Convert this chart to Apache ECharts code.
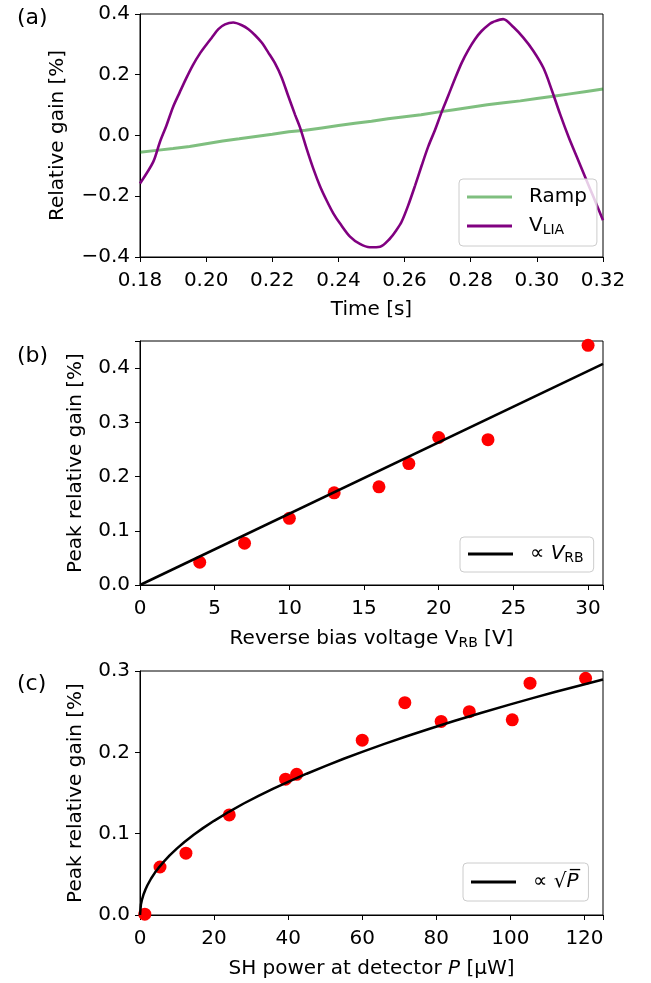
<!DOCTYPE html>
<html>
<head>
<meta charset="utf-8">
<script src="https://cdn.jsdelivr.net/npm/echarts@6/dist/echarts.min.js"></script>
<style>html,body{margin:0;padding:0;background:#fff}#c{width:651px;height:983px}</style>
</head>
<body>
<div id="c"></div>
<script>
// ---------- Panel (a) data ----------
const timeLIA = [0.1800,0.1840,0.1860,0.1880,0.1900,0.1920,0.1940,0.1960,0.1980,0.2000,0.2017,0.2037,0.2057,0.2082,0.2108,0.2128,0.2148,0.2168,0.2188,0.2208,0.2228,0.2248,0.2269,0.2284,0.2304,0.2324,0.2344,0.2364,0.2385,0.2405,0.2435,0.2465,0.2495,0.2526,0.2556,0.2575,0.2591,0.2611,0.2632,0.2652,0.2672,0.2692,0.2712,0.2732,0.2752,0.2773,0.2793,0.2813,0.2833,0.2858,0.2868,0.2898,0.2929,0.2959,0.2989,0.3020,0.3045,0.3070,0.3096,0.3121,0.3146,0.3171,0.3200];
const valueLIA = [-0.158,-0.087,-0.022,0.033,0.094,0.142,0.189,0.232,0.268,0.298,0.322,0.350,0.366,0.372,0.363,0.350,0.330,0.306,0.273,0.238,0.192,0.131,0.068,0.026,-0.044,-0.109,-0.166,-0.213,-0.257,-0.290,-0.333,-0.357,-0.368,-0.366,-0.339,-0.312,-0.284,-0.230,-0.164,-0.098,-0.035,0.018,0.077,0.131,0.186,0.240,0.282,0.317,0.344,0.368,0.374,0.383,0.357,0.322,0.279,0.222,0.150,0.071,-0.005,-0.071,-0.137,-0.202,-0.279];
const timeRamp = [0.180,0.185,0.190,0.195,0.200,0.205,0.210,0.215,0.220,0.225,0.230,0.235,0.240,0.245,0.250,0.255,0.260,0.265,0.270,0.275,0.280,0.285,0.290,0.295,0.300,0.305,0.310,0.315,0.320];
const valueRamp = [-0.055,-0.049,-0.043,-0.036,-0.027,-0.018,-0.011,-0.003,0.004,0.012,0.017,0.025,0.033,0.040,0.047,0.055,0.062,0.068,0.077,0.085,0.093,0.101,0.108,0.114,0.122,0.129,0.137,0.145,0.153];
const ticksAx = [0.18,0.20,0.22,0.24,0.26,0.28,0.30,0.32];
const ticksAy = [-0.4,-0.2,0.0,0.2,0.4];

// ---------- Panel (b) data ----------
const biasVoltage = [4,7,10,13,16,18,20,23.3,30];
const peakGainB = [0.042,0.077,0.123,0.170,0.181,0.224,0.272,0.268,0.442];
const fitBx = [0,31];
const fitBy = [0,0.408];
const ticksBx = [0,5,10,15,20,25,30];
const ticksBy = [0.0,0.1,0.2,0.3,0.4];

// ---------- Panel (c) data ----------
const shPower = [1.3,5.4,12.4,24.1,39.3,42.3,60.0,71.5,81.3,88.9,100.5,105.3,120.3];
const peakGainC = [0.001,0.059,0.076,0.123,0.167,0.173,0.215,0.261,0.238,0.250,0.240,0.285,0.291];
const fitCx = [0,0.25,0.5,1,1.5,2,3,4,5,6.5,8,10,12,14.5,17,20,24,28,32,36,40,45,50,55,60,66,72,78,85,92,100,106,112,118,125];
const fitCy = [0,0.0130,0.0183,0.0259,0.0317,0.0366,0.0449,0.0518,0.0579,0.0660,0.0733,0.0819,0.0897,0.0986,0.1068,0.1158,0.1269,0.1371,0.1465,0.1554,0.1638,0.1737,0.1831,0.1921,0.2006,0.2104,0.2198,0.2287,0.2388,0.2484,0.2590,0.2667,0.2741,0.2813,0.2896];
const ticksCx = [0,20,40,60,80,100,120];
const ticksCy = [0.0,0.1,0.2,0.3];

const FONT = 'DejaVu Sans';
const FS = 20;
const pairs = (xs, ys) => xs.map((x, i) => [x, ys[i]]);
const fmt = (ticks, digits) => v => {
  const hit = ticks.some(t => Math.abs(t - v) < 1e-9);
  if (!hit) return '';
  let s = v.toFixed(digits);
  if (Math.abs(v) < 1e-9) s = (0).toFixed(digits);
  return s.replace('-', '\u2212');
};
const subStyle = {fontFamily: FONT, fontSize: 14, verticalAlign: 'bottom', padding: [0,0,-1,0]};
const baseStyle = {fontFamily: FONT, fontSize: FS};
const itStyle = {fontFamily: FONT, fontSize: FS, fontStyle: 'italic'};

function xAxis(idx, min, max, interval, ticks, digits, name, gap) {
  return {
    type: 'value', gridIndex: idx, min, max, interval,
    name, nameLocation: 'middle', nameGap: gap,
    nameTextStyle: {color: '#000', fontFamily: FONT, fontSize: FS, rich: {sub: subStyle, it: itStyle}},
    axisLine: {show: true, onZero: false, lineStyle: {color: '#000', width: 1}},
    axisTick: {show: true, inside: false, length: 5, lineStyle: {color: '#000', width: 1}},
    axisLabel: {color: '#000', fontFamily: FONT, fontSize: FS, margin: 14, formatter: fmt(ticks, digits)},
    splitLine: {show: false}
  };
}
function yAxis(idx, min, max, interval, ticks, digits, name, gap) {
  return {
    type: 'value', gridIndex: idx, min, max, interval,
    name, nameLocation: 'middle', nameGap: gap, nameRotate: 90,
    nameTextStyle: {color: '#000', fontFamily: FONT, fontSize: FS},
    axisLine: {show: true, onZero: false, lineStyle: {color: '#000', width: 1}},
    axisTick: {show: true, inside: false, length: 5, lineStyle: {color: '#000', width: 1}},
    axisLabel: {color: '#000', fontFamily: FONT, fontSize: FS, margin: 10, formatter: fmt(ticks, digits)},
    splitLine: {show: false}
  };
}
const legendBase = {
  orient: 'vertical', selectedMode: false, icon: 'rect',
  backgroundColor: 'rgba(255,255,255,0.8)', borderColor: '#cccccc', borderWidth: 1, borderRadius: 4,
  itemWidth: 45, itemHeight: 3,
  textStyle: {color: '#000', fontFamily: FONT, fontSize: FS, padding: [0,0,0,12],
    rich: {sub: subStyle, it: itStyle, n: baseStyle}}
};

const option = {
  animation: false,
  backgroundColor: '#fff',
  title: [
    {text: '(a)', left: 12, top: 2, textStyle: {fontFamily: FONT, fontSize: 22, fontWeight: 'normal', color: '#000'}},
    {text: '(b)', left: 12, top: 340, textStyle: {fontFamily: FONT, fontSize: 22, fontWeight: 'normal', color: '#000'}},
    {text: '(c)', left: 12, top: 668, textStyle: {fontFamily: FONT, fontSize: 22, fontWeight: 'normal', color: '#000'}}
  ],
  grid: [
    {left: 140, top: 14, width: 463, height: 243, show: true, borderColor: '#000', borderWidth: 1, backgroundColor: 'transparent'},
    {left: 140, top: 341, width: 463, height: 244, show: true, borderColor: '#000', borderWidth: 1, backgroundColor: 'transparent'},
    {left: 140, top: 671, width: 463, height: 244, show: true, borderColor: '#000', borderWidth: 1, backgroundColor: 'transparent'}
  ],
  xAxis: [
    xAxis(0, 0.18, 0.32, 0.02, ticksAx, 2, 'Time [s]', 43),
    xAxis(1, 0, 31, 5, ticksBx, 0, 'Reverse bias voltage V{sub|RB} [V]', 44),
    xAxis(2, 0, 125, 20, ticksCx, 0, 'SH power at detector {it|P} [\u00b5W]', 44)
  ],
  yAxis: [
    yAxis(0, -0.4, 0.4, 0.2, ticksAy, 1, 'Relative gain [%]', 72),
    yAxis(1, 0, 0.45, 0.1, ticksBy, 1, 'Peak relative gain [%]', 54),
    yAxis(2, 0, 0.3, 0.1, ticksCy, 1, 'Peak relative gain [%]', 54)
  ],
  legend: [
    Object.assign({}, legendBase, {
      left: 459, top: 179, itemGap: 9, padding: [8, 10, 9, 8],
      data: ['Ramp', 'VLIA'],
      formatter: n => n === 'VLIA' ? '{n|V}{sub|LIA}' : '{n|Ramp}'
    }),
    Object.assign({}, legendBase, {
      left: 460, top: 537, padding: [7, 10, 7, 8],
      data: ['fitB'],
      formatter: () => '{n|\u221d }{it|V}{sub|RB}'
    }),
    Object.assign({}, legendBase, {
      left: 463, top: 863, padding: [9, 10, 9, 8],
      data: ['fitC'],
      formatter: () => '{n|\u221d \u221a}{it|P\u0305}'
    })
  ],
  series: [
    {name: 'Ramp', type: 'line', xAxisIndex: 0, yAxisIndex: 0, data: pairs(timeRamp, valueRamp),
      symbol: 'none', lineStyle: {color: 'rgba(0,128,0,0.5)', width: 3}, itemStyle: {color: 'rgba(0,128,0,0.5)'}, z: 2},
    {name: 'VLIA', type: 'line', xAxisIndex: 0, yAxisIndex: 0, data: pairs(timeLIA, valueLIA), smooth: 0.3,
      symbol: 'none', lineStyle: {color: '#800080', width: 2.6}, itemStyle: {color: '#800080'}, z: 3},
    {name: 'ptsB', type: 'scatter', xAxisIndex: 1, yAxisIndex: 1, data: pairs(biasVoltage, peakGainB),
      symbol: 'circle', symbolSize: 13, itemStyle: {color: '#ff0000', opacity: 1}, z: 2},
    {name: 'fitB', type: 'line', xAxisIndex: 1, yAxisIndex: 1, data: pairs(fitBx, fitBy),
      symbol: 'none', lineStyle: {color: '#000', width: 2.5}, itemStyle: {color: '#000'}, z: 3},
    {name: 'ptsC', type: 'scatter', xAxisIndex: 2, yAxisIndex: 2, data: pairs(shPower, peakGainC),
      symbol: 'circle', symbolSize: 13, itemStyle: {color: '#ff0000', opacity: 1}, z: 2},
    {name: 'fitC', type: 'line', xAxisIndex: 2, yAxisIndex: 2, data: pairs(fitCx, fitCy),
      symbol: 'none', lineStyle: {color: '#000', width: 2.5}, itemStyle: {color: '#000'}, z: 3}
  ]
};
const chart = echarts.init(document.getElementById('c'), null, {renderer: 'canvas'});
chart.setOption(option);
</script>
</body>
</html>
